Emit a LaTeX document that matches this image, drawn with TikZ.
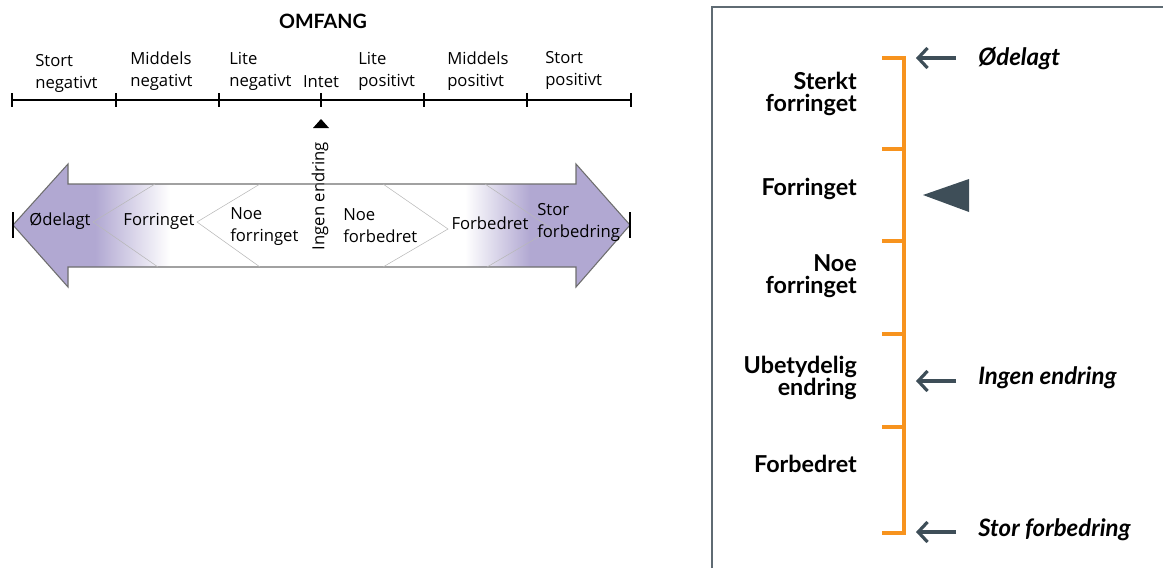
\documentclass[tikz,border=0pt]{standalone}
\usepackage{fontspec}
\setmainfont{Open Sans}
\newfontfamily\headfont{Lato}
\usetikzlibrary{arrows.meta,calc,positioning}
\definecolor{ink}{HTML}{3E4E58}
\definecolor{frame}{HTML}{5F6B73}
\definecolor{amber}{HTML}{F7931E}
\definecolor{lilac}{HTML}{B1A8D2}
\definecolor{rim}{HTML}{6E6E6E}
\definecolor{chev}{HTML}{B8B8B8}
\newcommand{\twoway}{(13,225) -- (68,164) -- (68,184) -- (576,184) -- (576,164) -- (630,225) -- (576,287) -- (576,267) -- (68,267) -- (68,287) -- cycle}

\begin{document}
\begin{tikzpicture}[x=0.75pt,y=-0.75pt,
  lbl/.style={font=\fontsize{12.5}{16.5}\selectfont,align=left,inner sep=0pt},
  cat/.style={font=\headfont\bfseries\fontsize{17.5}{16.5}\selectfont,align=right,anchor=east,inner sep=0pt},
  lvl/.style={font=\headfont\bfseries\itshape\fontsize{18}{18}\selectfont,anchor=west,inner sep=0pt},
  ptr/.style={ink,line width=2.4pt,-{Straight Barb[length=7pt,width=15pt]}}]
\useasboundingbox (0,0) rectangle (1163,568);

% scale
\node[font=\headfont\bfseries\fontsize{14.8}{16}\selectfont] (omfang) at (323,21) {OMFANG};
\draw[line width=1.5pt] (12,100) -- (631,100);
\foreach \x in {12,116,219,321,424,527,631} \draw[line width=1.5pt] (\x,93) -- (\x,107);
\node[lbl,anchor=west] (sn) at (35,73) {Stort\\negativt};
\node[lbl,anchor=west] (mn) at (130,71) {Middels\\negativt};
\node[lbl,anchor=west] (ln) at (229,71) {Lite\\negativt};
\node[lbl] (intet) at (321,82) {Intet};
\node[lbl,anchor=west] (lp) at (358,71) {Lite\\positivt};
\node[lbl,anchor=west] (mp) at (447,71) {Middels\\positivt};
\node[lbl,anchor=west] (sp) at (545,70) {Stort\\positivt};
\fill (313,128) -- (329,128) -- (321,119) -- cycle;
\node[lbl,rotate=90] (ingen) at (320,196) {Ingen endring};

% double arrow
\begin{scope}
\clip \twoway;
\fill[lilac] (0,150) rectangle (95,300);
\shade[left color=lilac,right color=white] (95,150) rectangle (170,300);
\shade[left color=white,right color=lilac] (465,150) rectangle (530,300);
\fill[lilac] (530,150) rectangle (640,300);
\end{scope}
\draw[rim,line width=0.8pt] \twoway;
\draw[chev] (155,184) -- (93,222) -- (158,267);
\draw[chev] (260,184) -- (197,222) -- (260,267);
\draw[chev] (383,184) -- (448,229) -- (383,267);
\draw[chev] (485,184) -- (552,229) -- (487,267);
\draw[line width=1.5pt] (13,212) -- (13,238) (630,212) -- (630,238);
\node[lbl] (odel) at (60,221) {Ødelagt};
\node[lbl] (forr) at (159,221) {Forringet};
\node[lbl,anchor=west] (noefo) at (230,227) {Noe\\forringet};
\node[lbl,anchor=west] (noefb) at (343,226) {Noe\\forbedret};
\node[lbl] (forb) at (490,223) {Forbedret};
\node[lbl,anchor=west] (storf) at (537,222) {Stor\\forbedring};

% right panel
\draw[frame,line width=1.2pt] (712,568) -- (712,7) -- (1163,7);
\draw[amber,line width=3.5pt] (882,58) -- (904,58) -- (904,533) -- (882,533);
\foreach \y in {149,241,334,427} \draw[amber,line width=3.5pt] (882,\y) -- (904,\y);
\node[cat] (c1) at (857,94) {Sterkt\\forringet};
\node[cat] (c2) at (857,189) {Forringet};
\node[cat] (c3) at (857,276) {Noe\\forringet};
\node[cat] (c4) at (857,378) {Ubetydelig\\endring};
\node[cat] (c5) at (857,464) {Forbedret};
\fill[ink] (923,195) -- (969,179) -- (969,212) -- cycle;
\node[lvl] (l1) at (978,59) {Ødelagt};
\node[lvl] (l2) at (978,378) {Ingen endring};
\node[lvl] (l3) at (978,530) {Stor forbedring};
\coordinate (s1) at (956,58); \coordinate (t1) at (916,58);
\coordinate (s2) at (956,381); \coordinate (t2) at (916,381);
\coordinate (s3) at (956,532); \coordinate (t3) at (916,532);
\draw[ptr] (s1) -- (t1);
\draw[ptr] (s2) -- (t2);
\draw[ptr] (s3) -- (t3);
\end{tikzpicture}
\end{document}
